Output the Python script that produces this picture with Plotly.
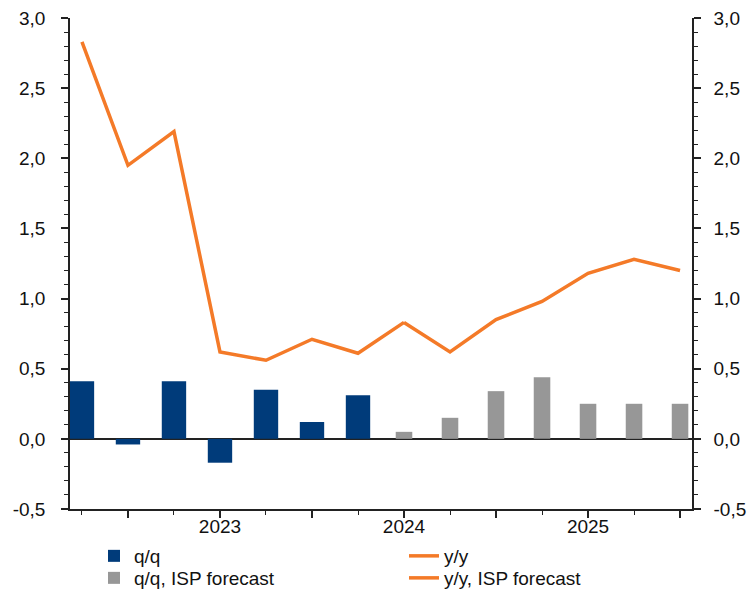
import plotly.graph_objects as go

quarters = list(range(14))
year_tickvals = [1, 3, 5, 7, 9, 11, 13]
year_ticktext = ["", "2023", "", "2024", "", "2025", ""]
y_tickvals = [-0.5, 0.0, 0.5, 1.0, 1.5, 2.0, 2.5, 3.0]
y_ticktext = ["-0,5", "0,0", "0,5", "1,0", "1,5", "2,0", "2,5", "3,0"]

qq_actual = [0.41, -0.04, 0.41, -0.17, 0.35, 0.12, 0.31, None, None, None, None, None, None, None]
qq_forecast = [None, None, None, None, None, None, None, 0.05, 0.15, 0.34, 0.44, 0.25, 0.25, 0.25]
yy_actual = [2.83, 1.95, 2.19, 0.62, 0.56, 0.71, 0.61, 0.83, None, None, None, None, None, None]
yy_forecast = [None, None, None, None, None, None, None, 0.83, 0.62, 0.85, 0.98, 1.18, 1.28, 1.20]

BLUE = "#003B7A"
GREY = "#979797"
ORANGE = "#F47A28"
AXIS = "#222222"
FONT = "Liberation Sans, Arial, sans-serif"

fig = go.Figure()
fig.add_trace(go.Bar(x=quarters, y=qq_actual, name="q/q", marker_color=BLUE,
                     width=0.53, legend="legend", marker_line_width=0))
fig.add_trace(go.Bar(x=quarters, y=qq_forecast, name="q/q, ISP forecast", marker_color=GREY,
                     width=0.36, legend="legend2", marker_line_width=0))
fig.add_trace(go.Scatter(x=quarters, y=yy_actual, name="y/y", mode="lines",
                         line=dict(color=ORANGE, width=3.5), legend="legend3"))
fig.add_trace(go.Scatter(x=quarters, y=yy_forecast, name="y/y, ISP forecast", mode="lines",
                         line=dict(color=ORANGE, width=3.5), legend="legend4"))
# invisible trace to activate right axis
fig.add_trace(go.Scatter(x=[0], y=[0], yaxis="y2", mode="markers",
                         marker=dict(opacity=0), showlegend=False, hoverinfo="skip"))

yaxis_common = dict(
    range=[-0.5, 3.0], tickmode="array", tickvals=y_tickvals, ticktext=y_ticktext,
    showgrid=False, showline=True, linecolor=AXIS, linewidth=1.5,
    ticks="outside", ticklen=7, tickwidth=1.5, tickcolor=AXIS,
    minor=dict(dtick=0.1, tick0=0, ticks="outside", ticklen=4, tickwidth=1.2, tickcolor=AXIS, showgrid=False),
    tickfont=dict(family=FONT, size=19, color="#111111"),
    automargin=False,
)

def leg(x, y):
    return dict(orientation="v", x=x, xanchor="left", y=y, yanchor="middle",
                font=dict(family=FONT, size=19, color="#111111"),
                bgcolor="rgba(0,0,0,0)", itemwidth=30)

x_left = (94 - 70) / 622
x_right = (404 - 70) / 622
y_row1 = (509 - 556) / 491
y_row2 = (509 - 578) / 491

fig.update_layout(
    width=749, height=594,
    margin=dict(l=70, r=57, t=18, b=85, autoexpand=False),
    plot_bgcolor="white", paper_bgcolor="white",
    barmode="overlay",
    font=dict(family=FONT, size=19, color="#111111"),
    xaxis=dict(
        range=[-0.26, 13.26], tickmode="array", tickvals=year_tickvals, ticktext=year_ticktext,
        showgrid=False, showline=True, linecolor=AXIS, linewidth=1.5,
        ticks="outside", ticklen=7, tickwidth=1.5, tickcolor=AXIS,
        minor=dict(dtick=1, tick0=0, ticks="outside", ticklen=4, tickwidth=1.2, tickcolor=AXIS, showgrid=False),
        zeroline=False, ticklabelstandoff=-8, automargin=False,
        tickfont=dict(family=FONT, size=19, color="#111111"),
    ),
    yaxis=dict(**yaxis_common, zeroline=True, zerolinecolor=AXIS, zerolinewidth=1.5,
               ticklabelstandoff=12),
    yaxis2=dict(**yaxis_common, overlaying="y", side="right", zeroline=False,
                ticklabelstandoff=9),
    legend=leg(x_left, y_row1),
    legend2=leg(x_left, y_row2),
    legend3=leg(x_right, y_row1),
    legend4=leg(x_right, y_row2),
    showlegend=True,
)

fig.write_html("out.html", config={"displayModeBar": False},
               post_script="document.body.style.margin='0';document.body.style.overflow='hidden';")
